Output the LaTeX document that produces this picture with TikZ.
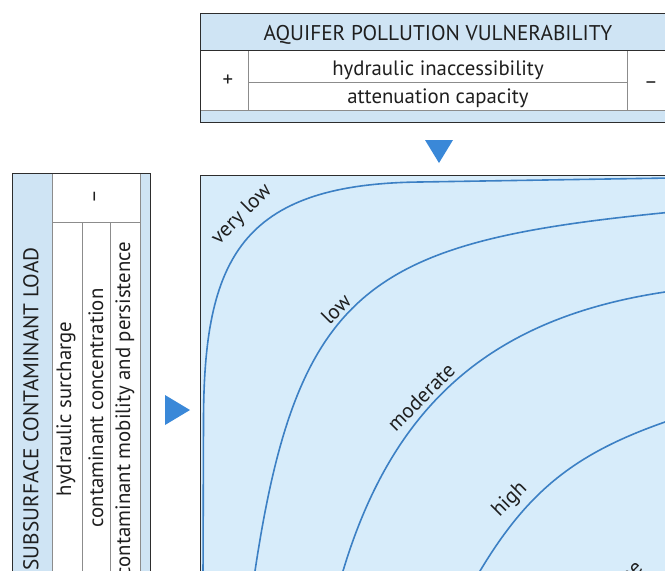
\documentclass[tikz,border=0pt]{standalone}
\usepackage{fontspec}
\setmainfont{PT Sans}
\definecolor{hdrblue}{RGB}{207,228,244}
\definecolor{chartblue}{RGB}{215,236,250}
\definecolor{curveblue}{RGB}{60,128,196}
\definecolor{triblue}{RGB}{58,136,216}
\definecolor{rulegray}{RGB}{140,140,140}
\definecolor{bordergray}{RGB}{45,45,45}
\begin{document}
\begin{tikzpicture}[x=1pt,y=-1pt,
  tabtext/.style={font=\fontsize{20.8}{21}\selectfont, inner sep=0pt, text=black!88},
  captext/.style={font=\fontsize{21.3}{21}\selectfont, inner sep=0pt, text=black!88},
  lbl/.style={font=\fontsize{21}{21}\selectfont, inner sep=0pt, rotate=45, text=black!88},
  curve/.style={draw=curveblue, line width=1.6pt},
  outer/.style={draw=bordergray, line width=1pt},
  inner/.style={draw=rulegray, line width=0.7pt},
  tri/.style={fill=triblue, draw=none}]
\useasboundingbox (0,0) rectangle (665,571);
\clip (0,0) rectangle (665,571);
\fill[white] (0,0) rectangle (665,571);

% top table
\fill[hdrblue] (200,13) rectangle (680,50);
\fill[hdrblue] (200,110) rectangle (680,122);
\draw[inner] (248,50) -- (248,110) (627,50) -- (627,110) (248,82) -- (627,82) (200,110) -- (680,110);
\draw[outer] (680,13) -- (200,13) -- (200,122) -- (680,122) (200,50) -- (680,50);
\node[captext] (aq) at (438,35) {AQUIFER POLLUTION VULNERABILITY};
\node[tabtext] (hi) at (438,70) {hydraulic inaccessibility};
\node[tabtext] (ac) at (438,98) {attenuation capacity};
\node[tabtext] (plus) at (228,81) {+};
\node[tabtext] (minus) at (651,85) {–};

% left table
\fill[hdrblue] (12,173) rectangle (52,600);
\fill[hdrblue] (140,173) rectangle (150,600);
\draw[inner] (52,173) -- (52,600) (140,173) -- (140,600) (52,222) -- (140,222)
  (82,222) -- (82,600) (110,222) -- (110,600);
\draw[outer] (12,600) -- (12,173) -- (150,173) -- (150,600);
\node[captext, rotate=90] (scl) at (31,409) {SUBSURFACE CONTAMINANT LOAD};
\node[tabtext, rotate=90] (hs) at (66,409) {hydraulic surcharge};
\node[tabtext, rotate=90] (cc) at (96,408) {contaminant concentration};
\node[tabtext, rotate=90] (cm) at (125,409) {contaminant mobility and persistence};
\node[tabtext, rotate=90] (lm) at (97,197) {–};

% arrows
\fill[tri] (425,140) -- (453,140) -- (439,163) -- cycle;
\fill[tri] (165,395) -- (190,410) -- (165,425) -- cycle;

% chart
\fill[chartblue] (200,175) rectangle (680,590);
\draw[curve] (203,580) -- (203.5,420) .. controls (204,260) and (240,184) .. (420,182) -- (670,178);
\draw[curve] (253,590) -- (255,571) .. controls (297.75,286) and (372,242) .. (662,213) -- (680,211);
\draw[curve] (337,590) -- (343,571) .. controls (394,401) and (495,317.5) .. (665,292) -- (680,290);
\draw[curve] (470,590) -- (480,571) .. controls (528,491) and (575,453.5) .. (665,422) -- (680,417);
\draw[outer] (200,590) -- (200,175) -- (680,175);
\node[lbl] (vl) at (242,215) {very low};
\node[lbl] (lo) at (336,309) {low};
\node[lbl] (mo) at (421,397) {moderate};
\node[lbl] (hg) at (510,500) {high};
\node[lbl] (ex) at (613,590) {extreme};
\end{tikzpicture}
\end{document}
